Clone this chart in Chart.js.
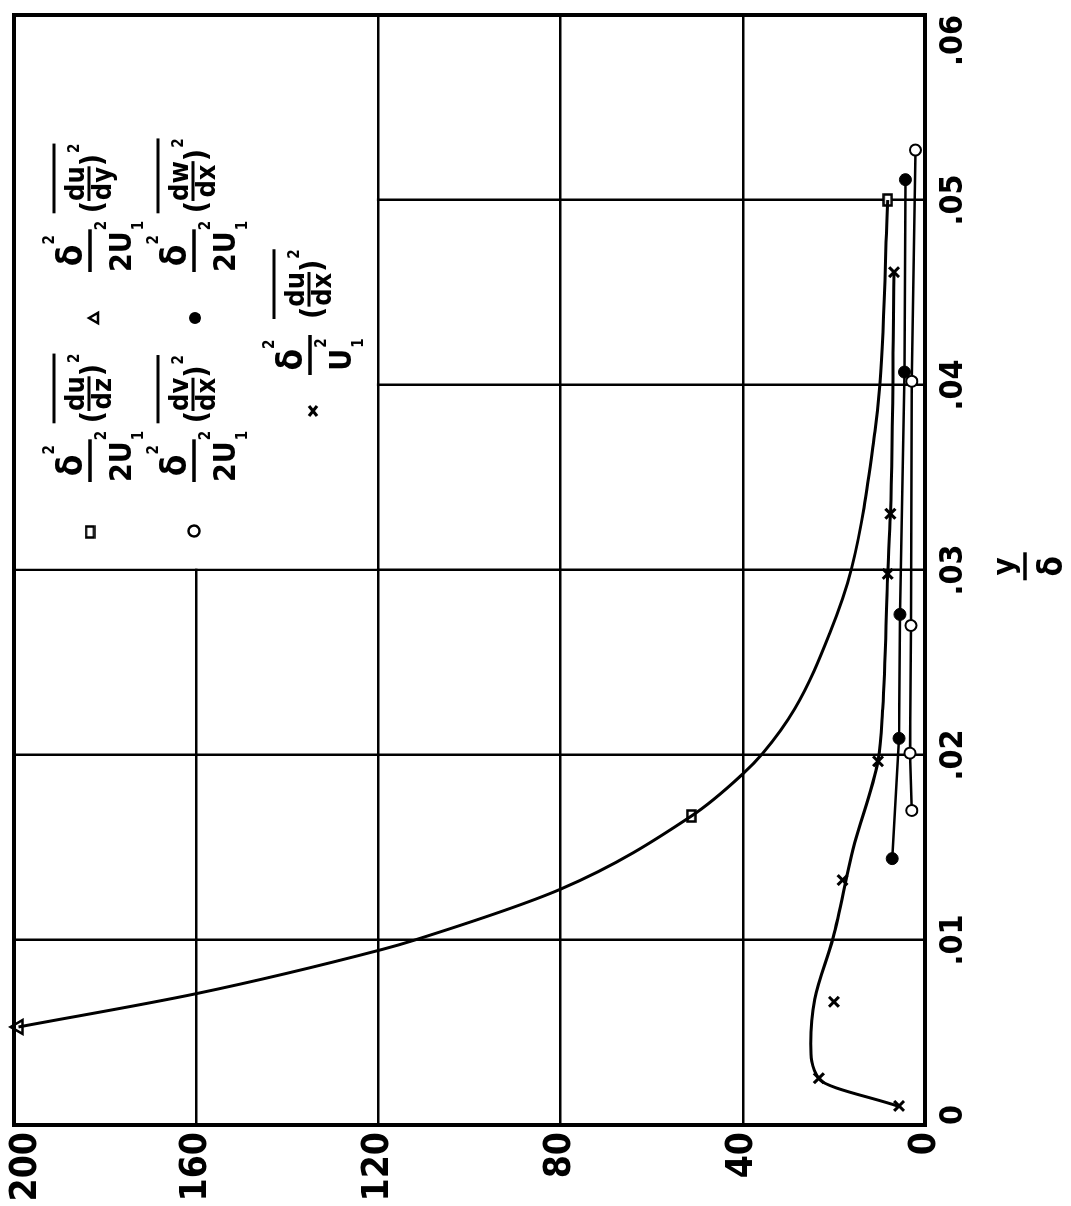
<!DOCTYPE html>
<html>
<head>
<meta charset="utf-8">
<script src="https://cdn.jsdelivr.net/npm/chart.js@4.4.1/dist/chart.umd.min.js"></script>
<style>
html, body { margin: 0; padding: 0; background: #fff; overflow: hidden; }
/* the chart is drawn upright, then turned a quarter turn like the original sheet */
#wrap { position: absolute; left: 0; top: 0; width: 1206px; height: 1071px;
        transform-origin: 0 0; transform: translateY(1206px) rotate(-90deg); }
</style>
</head>
<body>
<div id="wrap"><canvas id="chart" width="1206" height="1071"></canvas></div>
<script>
const FONT = '"DejaVu Sans Condensed", "DejaVu Sans", sans-serif';

// axis ticks
const xTicks = [0, 0.01, 0.02, 0.03, 0.04, 0.05, 0.06];
const xTickLabels = ["0", ".01", ".02", ".03", ".04", ".05", ".06"];
const yTicks = [0, 40, 80, 120, 160, 200];
const yTickLabels = ["0", "40", "80", "120", "160", "200"];

// (du/dy)^2 - triangle
const duDyX = [0.0053];
const duDyY = [199];
// (du/dz)^2 - square
const duDzX = [0.0167, 0.0500];
const duDzY = [51.3, 8.2];
// faired curve through triangle and squares
const outerCurveX = [0.0053, 0.0071, 0.0095, 0.0100, 0.01275, 0.0167, 0.0190, 0.0201, 0.0225, 0.0266, 0.0301, 0.0375, 0.0401, 0.0500];
const outerCurveY = [199, 160, 119, 112, 80, 51.3, 39.9, 35.6, 28.6, 20.9, 16.1, 11.0, 9.9, 8.2];
// (du/dx)^2 - crosses
const duDxX = [0.00103, 0.00253, 0.00666, 0.01324, 0.01966, 0.02979, 0.03304, 0.0461];
const duDxY = [5.7, 23.3, 20.0, 18.1, 10.3, 8.2, 7.6, 6.8];
// faired curve through crosses
const duDxCurveX = [0.0010, 0.0025, 0.0044, 0.0068, 0.0101, 0.0149, 0.0197, 0.0225, 0.0298, 0.0330, 0.0461];
const duDxCurveY = [5.7, 23.3, 25.1, 24.2, 20.2, 15.8, 10.3, 9.3, 8.2, 7.6, 6.8];
// (dv/dx)^2 - open circles
const dvDxX = [0.0170, 0.0201, 0.0270, 0.0402, 0.0527];
const dvDxY = [2.9, 3.3, 3.1, 2.9, 2.1];
// (dw/dx)^2 - filled circles
const dwDxX = [0.0144, 0.0209, 0.0276, 0.0407, 0.0511];
const dwDxY = [7.2, 5.7, 5.5, 4.5, 4.3];

const pts = (xs, ys) => xs.map((x, i) => ({ x: x, y: ys[i] }));

// small flat open rectangle used for the (du/dz)^2 points
const rectImg = document.createElement("canvas");
rectImg.width = 14; rectImg.height = 11;
(function () {
    const c = rectImg.getContext("2d");
    c.fillStyle = "#fff";
    c.fillRect(1.5, 1.5, 11, 8);
    c.strokeStyle = "#000";
    c.lineWidth = 2.5;
    c.strokeRect(1.5, 1.5, 11, 8);
})();

function line(ctx, x1, y1, x2, y2, w) {
    ctx.lineWidth = w;
    ctx.beginPath();
    ctx.moveTo(x1, y1);
    ctx.lineTo(x2, y2);
    ctx.stroke();
}

function text(ctx, s, x, y, size) {
    ctx.font = "bold " + size + "px " + FONT;
    ctx.fillText(s, x, y);
    return ctx.measureText(s).width;
}

function width(ctx, s, size) {
    ctx.font = "bold " + size + "px " + FONT;
    return ctx.measureText(s).width;
}

// draws  delta^2 / (2)U1^2  ( d?/d? )^2  with its fraction bar at yb
function drawTerm(ctx, x0, yb, two, num, den) {
    ctx.textAlign = "left";
    ctx.textBaseline = "alphabetic";
    const dw = width(ctx, two ? "2U" : "U", 30);
    const sw = width(ctx, "2", 15);
    const barW = two ? dw + 2 : 40;
    line(ctx, x0, yb, x0 + barW, yb, 3.5);

    // numerator
    const nw = width(ctx, "\u03b4", 35) + sw;
    let nx = x0 + (barW - nw) / 2;
    nx += text(ctx, "\u03b4", nx, yb - 8, 35);
    text(ctx, "2", nx, yb - 36, 15);

    // denominator
    let dx = two ? x0 : x0 + (barW - dw - sw) / 2;
    dx += text(ctx, two ? "2U" : "U", dx, yb + 41, 30);
    text(ctx, "2", dx + 1, yb + 16, 15);
    text(ctx, "1", dx + 1, yb + 53, 15);

    // derivative in brackets
    const start = x0 + barW + 16;
    let px = start;
    px += text(ctx, "(", px, yb + 12, 30);
    const iw = Math.max(width(ctx, num, 27), width(ctx, den, 27));
    text(ctx, num, px + (iw - width(ctx, num, 27)) / 2, yb - 6, 27);
    line(ctx, px, yb - 1, px + iw, yb - 1, 3);
    text(ctx, den, px + (iw - width(ctx, den, 27)) / 2, yb + 21, 27);
    px += iw;
    px += text(ctx, ")", px, yb + 12, 30);
    px += text(ctx, "2", px + 1, yb - 11, 15) + 1;
    line(ctx, start, yb - 36, px, yb - 36, 3);
}

function drawMarker(ctx, kind, x, y) {
    ctx.lineWidth = 2.5;
    ctx.beginPath();
    if (kind === "triangle") {
        const r = 6;
        ctx.moveTo(x, y - r);
        ctx.lineTo(x + r * 0.866, y + r * 0.5);
        ctx.lineTo(x - r * 0.866, y + r * 0.5);
        ctx.closePath();
        ctx.stroke();
    } else if (kind === "rect") {
        ctx.drawImage(rectImg, x - 7, y - 5.5);
    } else if (kind === "open") {
        ctx.arc(x, y, 5.5, 0, Math.PI * 2);
        ctx.stroke();
    } else if (kind === "filled") {
        ctx.arc(x, y, 6, 0, Math.PI * 2);
        ctx.fill();
    } else {
        line(ctx, x - 5, y - 4, x + 5, y + 4, 3);
        line(ctx, x - 5, y + 4, x + 5, y - 4, 3);
    }
}

const sheet = {
    id: "sheet",
    beforeDraw(chart) {
        // the top value label sits inside the sheet, below its tick
        chart.scales.y.getLabelItems().forEach(it => {
            if (it.label === yTickLabels[yTickLabels.length - 1]) {
                const t = it.options.translation;
                it.options.translation = [t[0], t[1] + 12];
            }
        });
    },
    beforeDatasetsDraw(chart) {
        // blank panel behind the key
        const { ctx, chartArea: a, scales } = chart;
        const left = scales.x.getPixelForValue(0.03);
        const bottom = scales.y.getPixelForValue(120);
        ctx.save();
        ctx.fillStyle = "#fff";
        ctx.fillRect(left + 1.5, a.top, a.right - left - 1.5, bottom - 1.5 - a.top);
        ctx.restore();
    },
    afterDraw(chart) {
        const { ctx, chartArea: a, scales } = chart;
        ctx.save();
        ctx.strokeStyle = "#000";
        ctx.fillStyle = "#000";
        ctx.lineCap = "square";
        line(ctx, a.left, a.top, a.right, a.top, 4);
        line(ctx, a.right, a.top, a.right, a.bottom, 4);
        ctx.lineCap = "butt";

        // key
        drawMarker(ctx, "rect", 674, 90);
        drawTerm(ctx, 724, 90, true, "du", "dz");
        drawMarker(ctx, "triangle", 888, 95);
        drawTerm(ctx, 934, 90, true, "du", "dy");
        drawMarker(ctx, "open", 675, 194);
        drawTerm(ctx, 724, 194, true, "dv", "dx");
        drawMarker(ctx, "filled", 888, 195);
        drawTerm(ctx, 934, 194, true, "dw", "dx");
        drawMarker(ctx, "cross", 795, 313);
        drawTerm(ctx, 831, 310, false, "du", "dx");

        // axis title y / delta
        const cx = scales.x.getPixelForValue(0.0302);
        ctx.textAlign = "center";
        text(ctx, "y", cx, 1014, 31);
        line(ctx, cx - 14, 1025, cx + 14, 1025, 3.5);
        text(ctx, "\u03b4", cx, 1062, 33);
        ctx.restore();
    }
};

const markerSet = { borderColor: "#000", pointBorderColor: "#000", clip: false };

new Chart(document.getElementById("chart"), {
    type: "scatter",
    data: {
        datasets: [
            { ...markerSet, data: pts(outerCurveX, outerCurveY), showLine: true, borderWidth: 3,
              pointRadius: 0, cubicInterpolationMode: "monotone" },
            { ...markerSet, data: pts(duDxCurveX, duDxCurveY), showLine: true, borderWidth: 3,
              pointRadius: 0, cubicInterpolationMode: "monotone" },
            { ...markerSet, data: pts(dvDxX, dvDxY), showLine: true, borderWidth: 2.5,
              pointStyle: "circle", pointRadius: 5.5, pointBackgroundColor: "#fff", pointBorderWidth: 2 },
            { ...markerSet, data: pts(dwDxX, dwDxY), showLine: true, borderWidth: 2.5,
              pointStyle: "circle", pointRadius: 6, pointBackgroundColor: "#000", pointBorderWidth: 1 },
            { ...markerSet, data: pts(duDxX, duDxY), showLine: false,
              pointStyle: "crossRot", pointRadius: 7, pointBorderWidth: 3 },
            { ...markerSet, data: pts(duDzX, duDzY), showLine: false, pointStyle: rectImg },
            { ...markerSet, data: pts(duDyX, duDyY), showLine: false,
              pointStyle: "triangle", pointRadius: 8, pointBackgroundColor: "#fff", pointBorderWidth: 2.5 }
        ]
    },
    options: {
        responsive: false,
        animation: false,
        layout: { padding: { top: 14, right: 15, left: 0, bottom: 0 } },
        plugins: { legend: { display: false }, tooltip: { enabled: false } },
        scales: {
            x: {
                type: "linear", min: 0, max: 0.06,
                afterBuildTicks: s => { s.ticks = xTicks.map(v => ({ value: v })); },
                afterFit: s => { s.height = 146; s.paddingLeft = 0; s.paddingRight = 0; },
                grid: { color: "#000", lineWidth: 2.5, drawTicks: false },
                border: { color: "#000", width: 4 },
                ticks: { color: "#000", padding: 9, align: "inner", maxRotation: 0,
                         font: { family: FONT, size: 32, weight: "bold" },
                         callback: (v, i) => xTickLabels[i] }
            },
            y: {
                type: "linear", min: 0, max: 200,
                afterBuildTicks: s => { s.ticks = yTicks.map(v => ({ value: v })); },
                afterFit: s => { s.width = 81; s.paddingTop = 0; s.paddingBottom = 0; },
                grid: { color: "#000", lineWidth: 2.5, drawTicks: false },
                border: { color: "#000", width: 4 },
                ticks: { color: "#000", padding: 7,
                         font: { family: FONT, size: 37, weight: "bold", lineHeight: 0.8 },
                         callback: (v, i) => yTickLabels[i] }
            }
        }
    },
    plugins: [sheet]
});
</script>
</body>
</html>
